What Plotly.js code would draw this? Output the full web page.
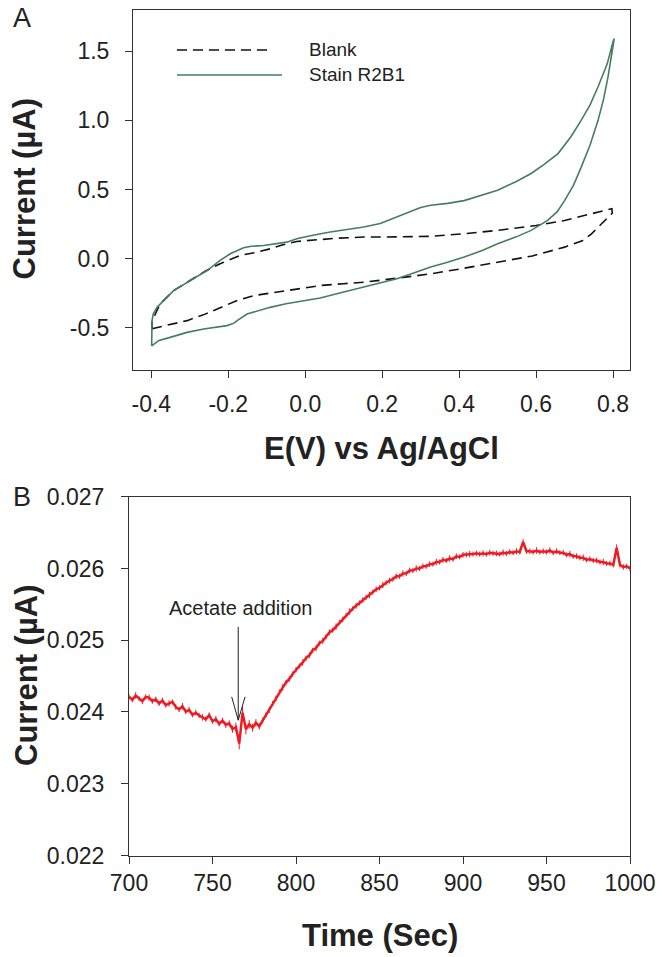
<!DOCTYPE html>
<html>
<head>
<meta charset="utf-8">
<script src="https://cdn.plot.ly/plotly-3.0.1.min.js"></script>
<style>
    body { margin: 0; background: #fff; }
    #graph { width: 664px; height: 957px; }
</style>
</head>
<body>
<div id="graph"></div>
<script>
// Panel A - cyclic voltammograms (closed loops, lower branch then upper branch)
const blankE = [-0.398, -0.35, -0.307, -0.26, -0.221, -0.18, -0.134, -0.09, -0.048, 0.0, 0.039, 0.1, 0.152, 0.24, 0.326, 0.41, 0.5, 0.59, 0.674, 0.72, 0.744, 0.77, 0.787, 0.798,
    0.797, 0.75, 0.674, 0.6, 0.5, 0.41, 0.326, 0.24, 0.152, 0.08, 0.02, -0.022, -0.06, -0.091, -0.13, -0.169, -0.221, -0.26, -0.307, -0.342, -0.377, -0.39, -0.398, -0.398];
const blankI = [-0.505, -0.475, -0.447, -0.40, -0.351, -0.305, -0.266, -0.245, -0.23, -0.21, -0.193, -0.18, -0.17, -0.14, -0.109, -0.07, -0.024, 0.02, 0.084, 0.13, 0.18, 0.25, 0.30, 0.33,
    0.362, 0.33, 0.277, 0.24, 0.205, 0.18, 0.162, 0.158, 0.157, 0.148, 0.135, 0.125, 0.10, 0.072, 0.045, 0.024, -0.036, -0.09, -0.17, -0.23, -0.326, -0.40, -0.45, -0.505];

const stainE = [-0.399, -0.38, -0.351, -0.307, -0.264, -0.225, -0.203, -0.185, -0.177, -0.151, -0.12, -0.091, -0.05, -0.004, 0.039, 0.1, 0.152, 0.2, 0.238, 0.28, 0.326, 0.37, 0.413, 0.46, 0.5, 0.55, 0.587, 0.63, 0.655, 0.674, 0.697, 0.717, 0.74, 0.761, 0.775, 0.787, 0.797, 0.803,
    0.80, 0.785, 0.761, 0.74, 0.717, 0.69, 0.657, 0.62, 0.587, 0.55, 0.5, 0.45, 0.413, 0.37, 0.326, 0.3, 0.282, 0.26, 0.238, 0.215, 0.195, 0.152, 0.1, 0.065, 0.02, -0.022, -0.048, -0.08, -0.108, -0.14, -0.16, -0.195, -0.221, -0.255, -0.307, -0.342, -0.368, -0.385, -0.395, -0.398, -0.399];
const stainI = [-0.63, -0.59, -0.568, -0.532, -0.507, -0.49, -0.483, -0.465, -0.447, -0.399, -0.372, -0.351, -0.325, -0.302, -0.283, -0.24, -0.206, -0.175, -0.145, -0.105, -0.06, -0.025, 0.012, 0.06, 0.109, 0.16, 0.205, 0.277, 0.34, 0.42, 0.53, 0.66, 0.82, 1.0, 1.15, 1.316, 1.48, 1.59,
    1.57, 1.41, 1.243, 1.11, 1.0, 0.88, 0.76, 0.68, 0.616, 0.56, 0.495, 0.45, 0.42, 0.40, 0.386, 0.37, 0.35, 0.325, 0.30, 0.275, 0.254, 0.229, 0.21, 0.193, 0.17, 0.145, 0.12, 0.105, 0.096, 0.09, 0.08, 0.036, -0.012, -0.085, -0.17, -0.23, -0.302, -0.351, -0.40, -0.447, -0.63];

// Panel B - current vs time, one reading every 2 s from 700 s
const timeStart = 700;
const timeStep = 2;
const currentB = [
    0.024215, 0.024170, 0.024230, 0.024185, 0.024150, 0.024210, 0.024200, 0.024150, 0.024175, 0.024120,
    0.024160, 0.024095, 0.024120, 0.024140, 0.024070, 0.024035, 0.024080, 0.024005, 0.024030, 0.023960,
    0.023990, 0.023950, 0.023925, 0.023900, 0.023955, 0.023870, 0.023900, 0.023835, 0.023880, 0.023820,
    0.023840, 0.023760, 0.023790, 0.023560, 0.023990, 0.023760, 0.023830, 0.023780, 0.023850, 0.023800,
    0.023880, 0.023960, 0.024030, 0.024120, 0.024190, 0.024280, 0.024340, 0.024410, 0.024460, 0.024530,
    0.024590, 0.024640, 0.024690, 0.024750, 0.024790, 0.024860, 0.024890, 0.024960, 0.024990, 0.025050,
    0.025110, 0.025140, 0.025190, 0.025250, 0.025290, 0.025350, 0.025400, 0.025440, 0.025480, 0.025520,
    0.025560, 0.025600, 0.025630, 0.025670, 0.025710, 0.025730, 0.025770, 0.025800, 0.025830, 0.025850,
    0.025890, 0.025890, 0.025930, 0.025930, 0.025970, 0.025970, 0.026000, 0.026000, 0.026030, 0.026030,
    0.026060, 0.026060, 0.026090, 0.026090, 0.026120, 0.026110, 0.026140, 0.026130, 0.026170, 0.026160,
    0.026190, 0.026190, 0.026200, 0.026200, 0.026210, 0.026200, 0.026210, 0.026200, 0.026220, 0.026210,
    0.026210, 0.026200, 0.026220, 0.026210, 0.026230, 0.026220, 0.026240, 0.026230, 0.026370, 0.026240,
    0.026240, 0.026230, 0.026250, 0.026230, 0.026240, 0.026230, 0.026250, 0.026220, 0.026240, 0.026220,
    0.026220, 0.026190, 0.026200, 0.026170, 0.026170, 0.026150, 0.026150, 0.026120, 0.026130, 0.026110,
    0.026110, 0.026090, 0.026090, 0.026070, 0.026070, 0.026050, 0.026290, 0.026050, 0.026020, 0.026030,
    0.026000
];
// half-width of the noisy band around the trace (in 1e-6 µA)
const noiseB = [
    40, 35, 45, 35, 40, 35, 45, 35, 40, 35,
    40, 35, 45, 35, 40, 35, 45, 35, 40, 35,
    40, 35, 45, 35, 40, 35, 45, 35, 40, 45,
    45, 50, 60, 80, 90, 70, 60, 55, 50, 45,
    40, 35, 45, 35, 40, 35, 45, 35, 40, 35,
    40, 35, 45, 35, 40, 35, 45, 35, 40, 35,
    40, 35, 45, 35, 40, 35, 45, 35, 40, 35,
    40, 35, 45, 35, 40, 35, 45, 35, 40, 35,
    40, 35, 45, 35, 40, 35, 45, 35, 40, 35,
    40, 35, 45, 35, 40, 35, 45, 35, 40, 35,
    40, 35, 45, 35, 40, 35, 45, 35, 40, 35,
    40, 35, 45, 35, 40, 35, 45, 35, 40, 35,
    40, 35, 45, 35, 40, 35, 45, 35, 40, 35,
    40, 35, 45, 35, 40, 35, 45, 35, 40, 35,
    40, 35, 45, 35, 40, 35, 45, 35, 40, 35,
    40
];

// tick labels
const ticksA_x = [-0.4, -0.2, 0.0, 0.2, 0.4, 0.6, 0.8];
const labelsA_x = ['-0.4', '-0.2', '0.0', '0.2', '0.4', '0.6', '0.8'];
const ticksA_y = [-0.5, 0.0, 0.5, 1.0, 1.5];
const labelsA_y = ['-0.5', '0.0', '0.5', '1.0', '1.5'];
const ticksB_x = [700, 750, 800, 850, 900, 950, 1000];
const ticksB_y = [0.022, 0.023, 0.024, 0.025, 0.026, 0.027];
const labelsB_y = ['0.022', '0.023', '0.024', '0.025', '0.026', '0.027'];

document.addEventListener('DOMContentLoaded', function() {

    const W = 664, H = 957;
    const px = x => x / W;
    const py = y => 1 - y / H;

    const font = 'Arial, "Liberation Sans", sans-serif';
    const green = '#467d5f';
    const red = '#ed1c24';

    const axisBase = {
        showline: true,
        mirror: true,
        linecolor: '#333',
        linewidth: 1,
        ticks: 'outside',
        ticklen: 7,
        tickcolor: '#333',
        showgrid: false,
        zeroline: false,
        tickfont: { family: font, size: 23, color: '#222' }
    };

    const traces = [
        { x: blankE, y: blankI, xaxis: 'x', yaxis: 'y', type: 'scatter', mode: 'lines',
          line: { color: '#111', width: 1.6, dash: '10px,6px' }, name: 'Blank' },
        { x: stainE, y: stainI, xaxis: 'x', yaxis: 'y', type: 'scatter', mode: 'lines',
          line: { color: green, width: 1.6 }, name: 'Stain R2B1' },
        // noisy trace: the band is drawn with error bars, the mean with a line
        { y: currentB, x0: timeStart, dx: timeStep, xaxis: 'x2', yaxis: 'y2', type: 'scatter', mode: 'lines',
          line: { color: red, width: 2.5 }, name: 'Current',
          error_y: { type: 'data', array: noiseB.map(n => n * 1e-6), visible: true,
                     color: red, thickness: 1, width: 0 } }
    ];

    const boldTitle = { family: font, size: 31, color: '#222', weight: 'bold' };
    const note = (text, x, y, size, extra) => Object.assign({
        text: text, xref: 'paper', yref: 'paper', x: px(x), y: py(y),
        xanchor: 'center', yanchor: 'middle', showarrow: false,
        font: { family: font, size: size, color: '#222' }
    }, extra || {});

    const layout = {
        width: W,
        height: H,
        margin: { l: 0, r: 0, t: 0, b: 0 },
        paper_bgcolor: '#fff',
        plot_bgcolor: '#fff',
        showlegend: false,
        xaxis: Object.assign({}, axisBase, {
            domain: [px(133), px(630)], range: [-0.4475, 0.844], anchor: 'y',
            tickvals: ticksA_x, ticktext: labelsA_x, ticklabelstandoff: 7
        }),
        yaxis: Object.assign({}, axisBase, {
            domain: [py(369.5), py(9.6)], range: [-0.8, 1.8], anchor: 'x',
            tickvals: ticksA_y, ticktext: labelsA_y, ticklabelstandoff: 11
        }),
        xaxis2: Object.assign({}, axisBase, {
            domain: [px(129), px(630)], range: [700, 1000], anchor: 'y2',
            tickvals: ticksB_x, ticklabelstandoff: 0
        }),
        yaxis2: Object.assign({}, axisBase, {
            domain: [py(855.5), py(496.7)], range: [0.022, 0.027], anchor: 'x2',
            tickvals: ticksB_y, ticktext: labelsB_y, ticklabelstandoff: 12
        }),
        shapes: [
            // legend samples
            { type: 'line', xref: 'paper', yref: 'paper', x0: px(177), x1: px(270), y0: py(50), y1: py(50),
              line: { color: '#111', width: 1.6, dash: '10px,6px' } },
            { type: 'line', xref: 'paper', yref: 'paper', x0: px(177), x1: px(282), y0: py(75), y1: py(75),
              line: { color: green, width: 1.6 } },
            // arrow for acetate addition
            { type: 'line', xref: 'x2', yref: 'y2', x0: 765.4, x1: 765.4, y0: 0.025187, y1: 0.023886,
              line: { color: '#222', width: 1 } },
            { type: 'line', xref: 'x2', yref: 'y2', x0: 761.5, x1: 765.4, y0: 0.024211, y1: 0.023886,
              line: { color: '#222', width: 1 } },
            { type: 'line', xref: 'x2', yref: 'y2', x0: 769.5, x1: 765.4, y0: 0.024211, y1: 0.023886,
              line: { color: '#222', width: 1 } }
        ],
        annotations: [
            note('A', 22, 18, 27),
            note('B', 22, 497, 27),
            note('Blank', 307, 50, 19, { xanchor: 'left' }),
            note('Stain R2B1', 307, 75, 19, { xanchor: 'left' }),
            note('Current (µA)', 24, 189.5, 31, { textangle: -90, font: boldTitle }),
            note('E(V) vs Ag/AgCl', 381.5, 448.5, 31, { font: boldTitle }),
            note('Current (µA)', 26, 676, 31, { textangle: -90, font: boldTitle }),
            note('Time (Sec)', 379.5, 935, 31, { font: boldTitle }),
            { text: 'Acetate addition', xref: 'x2', yref: 'y2', x: 767, y: 0.025448, showarrow: false,
              xanchor: 'center', yanchor: 'middle', font: { family: font, size: 20, color: '#222' } }
        ]
    };

    Plotly.newPlot('graph', traces, layout, { staticPlot: true });

});
</script>
</body>
</html>
